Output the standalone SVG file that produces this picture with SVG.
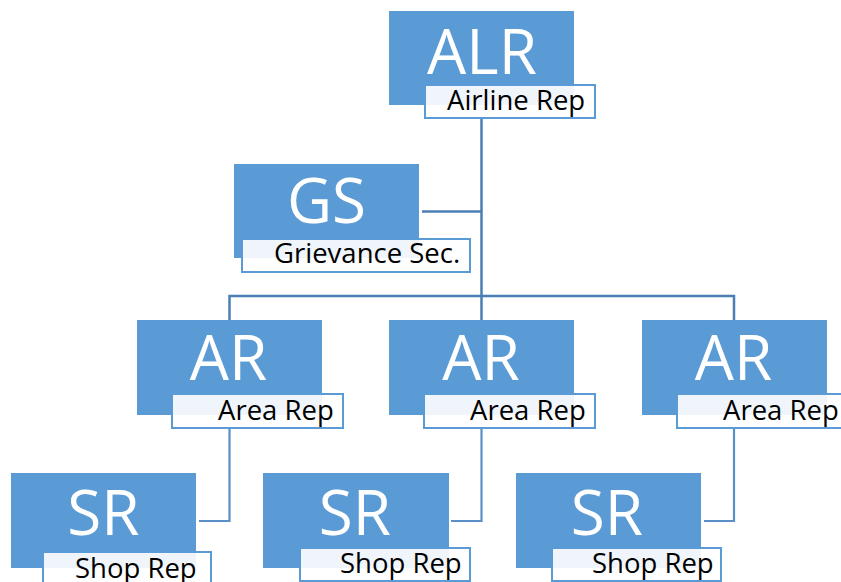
<svg xmlns="http://www.w3.org/2000/svg" width="841" height="582" viewBox="0 0 841 582">
<style>
.box{fill:#5b9bd5;}
.lbl{fill:#ffffff;fill-opacity:0.9;stroke:#5b9bd5;stroke-width:2;}
.big{font-family:"Open Sans","Liberation Sans",sans-serif;font-size:62px;fill:#ffffff;text-anchor:middle;}
.sm{font-family:"Open Sans","Liberation Sans",sans-serif;font-size:27.5px;fill:#000000;}
.c1{fill:none;stroke:#4a7eb5;stroke-width:2.5;}
.c2{fill:none;stroke:#5b8fc7;stroke-width:2.2;}
</style>
<rect width="841" height="582" fill="#ffffff"/>
<g id="connectors">
<path class="c1" d="M481.5 118 V320"/>
<path class="c1" d="M422 211.5 H481.5"/>
<path class="c1" d="M229.5 320 V296 H734 V320"/>
<path class="c2" d="M229.5 428 V521 H199"/>
<path class="c2" d="M481.5 428 V521 H451"/>
<path class="c2" d="M734 428 V521 H704"/>
</g>
<g id="alr">
<rect class="box" x="389" y="11" width="185" height="94"/>
<rect class="lbl" x="425" y="85" width="170" height="33"/>
<text class="big" x="482" y="74">ALR</text>
<text class="sm" x="447" y="110">Airline Rep</text>
</g>
<g id="gs">
<rect class="box" x="234" y="164" width="185" height="94"/>
<rect class="lbl" x="242" y="239" width="228" height="33"/>
<text class="big" x="326.5" y="223">GS</text>
<text class="sm" x="274" y="263">Grievance Sec.</text>
</g>
<g id="ar1">
<rect class="box" x="137" y="320" width="185" height="95"/>
<rect class="lbl" x="172" y="394" width="171" height="34"/>
<text class="big" x="228.5" y="380">AR</text>
<text class="sm" x="218" y="420">Area Rep</text>
</g>
<g id="ar2">
<rect class="box" x="389" y="320" width="185" height="95"/>
<rect class="lbl" x="424" y="394" width="171" height="34"/>
<text class="big" x="481" y="380">AR</text>
<text class="sm" x="470" y="420">Area Rep</text>
</g>
<g id="ar3">
<rect class="box" x="642" y="320" width="185" height="95"/>
<rect class="lbl" x="677" y="394" width="171" height="34"/>
<text class="big" x="733.5" y="380">AR</text>
<text class="sm" x="723" y="420">Area Rep</text>
</g>
<g id="sr1">
<rect class="box" x="11" y="473" width="185" height="95"/>
<rect class="lbl" x="43" y="552" width="168" height="34"/>
<text class="big" x="103.5" y="535">SR</text>
<text class="sm" x="75" y="578">Shop  Rep</text>
</g>
<g id="sr2">
<rect class="box" x="263" y="473" width="186" height="95"/>
<rect class="lbl" x="300" y="548" width="170" height="33"/>
<text class="big" x="355" y="535">SR</text>
<text class="sm" x="340" y="573">Shop Rep</text>
</g>
<g id="sr3">
<rect class="box" x="516" y="473" width="185" height="95"/>
<rect class="lbl" x="552" y="548" width="169" height="33"/>
<text class="big" x="607" y="535">SR</text>
<text class="sm" x="592" y="573">Shop Rep</text>
</g>
</svg>
